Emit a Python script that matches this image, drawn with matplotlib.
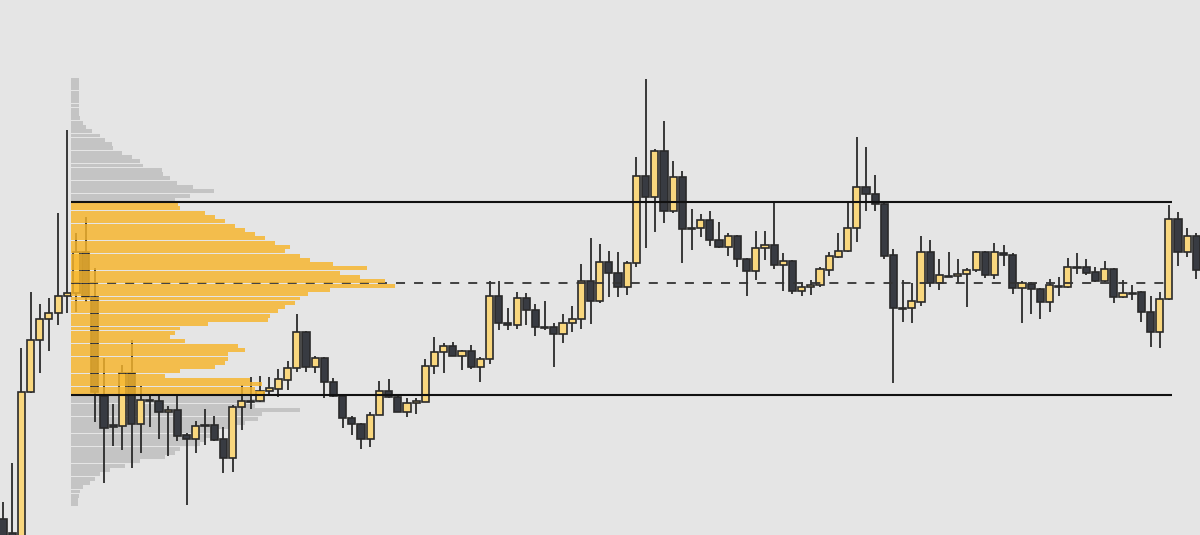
import numpy as np
import matplotlib
matplotlib.use("Agg")
import matplotlib.pyplot as plt

# ---------------- data (price units) ----------------
opens = [16, 2, -3, 143, 195, 216, 222, 239, 242, 283,
         238, 139, 110, 109, 162, 111, 135.5, 134, 123, 125,
         100, 96, 110.5, 110, 96, 77, 128, 134.5, 134, 144,
         146, 155, 167, 203, 168, 177, 153, 139, 117, 111,
         96, 120, 144, 138, 123, 132, 133, 169, 183, 189,
         179, 184, 168, 176, 239, 212, 210, 237, 225, 208.5,
         208, 201, 212, 216, 254, 234, 273, 262, 248, 272,
         359, 338, 384, 324, 358, 307.5, 307, 315, 295, 288,
         299, 276, 264, 287, 290, 270, 274, 244, 248, 250,
         265, 278, 284, 307, 348, 341, 331, 280, 227.5, 227,
         233, 283, 252, 259.5, 259, 261, 265, 283, 260, 282,
         280, 247, 251, 246, 233, 249.5, 248, 268.5, 268, 263,
         254, 266, 238, 242.5, 243, 223, 203, 236, 316, 283,
         299]
highs = [33, 72, 187, 243, 231, 237, 322, 405, 302, 318,
         267, 177, 131, 170, 195, 149, 139, 139, 129, 139,
         102, 114, 126, 119, 108, 130, 150, 158, 159, 158,
         166, 174, 221, 204, 179, 178, 157, 140, 119, 112,
         123, 154, 156, 140, 137, 137, 176, 198, 192, 193,
         185, 190, 178, 254, 254, 227, 243, 242, 231, 234,
         212, 221, 229, 271, 297, 291, 284, 283, 274, 378,
         456, 386, 414, 374, 364, 326, 321, 324, 313, 302,
         300, 277, 304, 304, 334, 282, 275, 253, 255, 268,
         283, 302, 332, 398, 388, 360, 333, 286, 255, 252,
         299, 295, 276, 283, 276, 267, 284, 284, 292, 290,
         282, 254, 253, 247, 256, 258, 277, 282, 276, 268,
         274, 267, 255, 250, 244, 239, 243, 330, 323, 307,
         302]
lows = [-17, -13, -7, 142, 162, 184, 210, 222, 223, 233,
        113, 52, 89, 85, 67, 82, 108, 96, 79, 94,
        30, 82, 90, 94, 62, 63, 105, 126, 133, 139,
        138, 145, 163, 163, 162, 137, 138, 107, 100, 86,
        88, 120, 137, 123, 118, 121, 133, 161, 162, 179,
        165, 166, 153, 171, 205, 205, 206, 210, 199, 205,
        168, 192, 203, 206, 211, 232, 238, 238, 240, 268,
        287, 303, 312, 322, 272, 285, 298, 289, 287, 279,
        268, 239, 255, 275, 266, 244, 241, 239, 240, 248,
        259, 277, 283, 293, 324, 324, 276, 152, 213, 212,
        229, 248, 245, 258, 252, 228, 263, 257, 256, 269,
        241, 212, 221, 216, 223, 239, 247, 261, 260, 253,
        253, 232, 237, 235, 213, 188, 187, 235, 269, 278,
        256]
closes = [-10, -3, 143, 195, 216, 222, 239, 242, 283, 238,
          143, 107, 108, 162, 111, 135, 134.5, 123, 125, 99,
          96, 109, 109.5, 95, 77, 128, 134, 133.5, 144, 147,
          156, 167, 203, 168, 177, 153, 139, 117, 111, 96,
          120, 144, 138, 123, 132, 134, 169, 183, 189, 179,
          184, 168, 176, 239, 212, 210, 237, 225, 208, 207.5,
          201, 212, 216, 254, 234, 273, 262, 248, 272, 359,
          338, 384, 324, 358, 306, 306.5, 315, 295, 288, 299,
          276, 264, 287, 290, 270, 274, 244, 248, 250, 266,
          279, 284, 307, 348, 341, 331, 279, 227, 226.5, 234,
          283, 252, 260, 258.5, 261, 265, 283, 260, 283, 280,
          247, 252, 246, 233, 250, 248.5, 268, 267.5, 262, 254,
          266, 238, 242, 241.5, 223, 203, 236, 316, 283, 299,
          265]

# volume profile, rows listed from the highest price row to the lowest
profile_volume = [8, 8, 8, 8, 8, 8, 8, 8, 8, 9,
                  12, 15, 21, 29, 34, 41, 42, 51, 61, 69,
                  72, 91, 92, 99, 106, 122, 143, 119, 104, 107,
                  109, 134, 144, 154, 164, 174, 184, 194, 204, 219,
                  214, 229, 239, 262, 296, 269, 289, 314, 324, 259,
                  237, 229, 224, 214, 207, 199, 197, 137, 109, 104,
                  99, 114, 167, 174, 157, 157, 154, 144, 109, 94,
                  179, 191, 184, 194, 179, 194, 184, 229, 191, 187,
                  174, 159, 144, 139, 134, 129, 109, 104, 94, 69,
                  54, 39, 29, 24, 19, 12, 9, 8, 7, 7]
profile_high = 457.4
profile_low = 28.5
value_area_high = 333
value_area_low = 140
poc_price = 252

# ---------------- style ----------------
BG = "#e5e5e5"
BULL = "#f9d77e"
BEAR = "#383b42"
EDGE = "#2a2a2a"
VA_COLOR = "#f7b52a"
OUT_COLOR = "#c4c4c4"

fig = plt.figure(figsize=(12, 5.35), dpi=100, facecolor=BG)
ax = fig.add_axes([0, 0, 1, 1])
ax.set_facecolor(BG)
ax.axis("off")

n = len(opens)
x = np.arange(n)
o = np.array(opens, float)
h = np.array(highs, float)
l = np.array(lows, float)
c = np.array(closes, float)
bull = c >= o

# profile geometry
vol = np.array(profile_volume, float)
rows = len(vol)
row_h = (profile_high - profile_low) / rows
row_prices = profile_high - row_h * (np.arange(rows) + 0.5)
prof_left = 7.41
prof_max_w = 35.3
widths = vol / vol.max() * prof_max_w
in_va = (row_prices > value_area_low) & (row_prices < value_area_high)

# grey part of the profile (behind candles)
ax.barh(row_prices[~in_va], widths[~in_va], height=row_h * 0.92, left=prof_left,
        color=OUT_COLOR, edgecolor="none", zorder=1)

# candles
ax.vlines(x, l, h, color=EDGE, linewidth=1.3, zorder=2)
body_bot = np.minimum(o, c)
body_h = np.maximum(np.abs(c - o), 0.9)
ax.bar(x[bull], body_h[bull], bottom=body_bot[bull], width=0.78,
       color=BULL, edgecolor=EDGE, linewidth=1.2, zorder=3)
ax.bar(x[~bull], body_h[~bull], bottom=body_bot[~bull], width=0.78,
       color=BEAR, edgecolor=EDGE, linewidth=1.2, zorder=3)

# levels
line_end = 127.3
ax.hlines(poc_price, prof_left, line_end, colors="#333333", linestyles=(0, (5, 5)),
          linewidth=1.3, zorder=4)

# value-area part of the profile (over candles)
ax.barh(row_prices[in_va], widths[in_va], height=row_h * 0.92, left=prof_left,
        color=VA_COLOR, alpha=0.82, edgecolor="none", zorder=5)

ax.hlines([value_area_high, value_area_low], prof_left, line_end, colors="#111111",
          linewidth=1.5, zorder=6)

ax.set_xlim(-0.327, 130.39)
ax.set_ylim(0, 535)

fig.savefig("out.png", dpi=100, facecolor=BG)
